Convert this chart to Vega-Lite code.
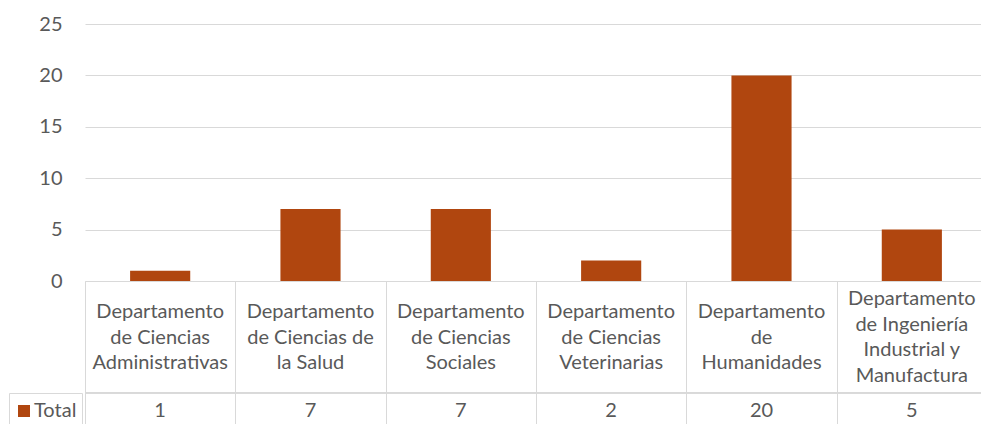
{
  "$schema": "https://vega.github.io/schema/vega-lite/v6.json",
  "width": 902,
  "height": 257,
  "autosize": {"type": "none"},
  "padding": {"left": 85, "top": 24, "right": -6, "bottom": 143},
  "background": "white",
  "config": {
    "font": "Lato",
    "view": {"stroke": null},
    "axis": {"labelFont": "Lato", "labelColor": "#595959"}
  },
  "data": {
    "values": [
      {"dept": "Departamento de Ciencias Administrativas", "label": ["Departamento", "de Ciencias", "Administrativas"], "value": 1, "series": "Total"},
      {"dept": "Departamento de Ciencias de la Salud", "label": ["Departamento", "de Ciencias de", "la Salud"], "value": 7, "series": "Total"},
      {"dept": "Departamento de Ciencias Sociales", "label": ["Departamento", "de Ciencias", "Sociales"], "value": 7, "series": "Total"},
      {"dept": "Departamento de Ciencias Veterinarias", "label": ["Departamento", "de Ciencias", "Veterinarias"], "value": 2, "series": "Total"},
      {"dept": "Departamento de Humanidades", "label": ["Departamento", "de", "Humanidades"], "value": 20, "series": "Total"},
      {"dept": "Departamento de Ingeniería Industrial y Manufactura", "label": ["Departamento", "de Ingeniería", "Industrial y", "Manufactura"], "value": 5, "series": "Total"}
    ]
  },
  "resolve": {"scale": {"y": "independent"}, "axis": {"y": "independent"}},
  "layer": [
    {
      "mark": {"type": "bar", "width": {"band": 0.4}},
      "encoding": {
        "x": {
          "field": "dept", "type": "nominal", "sort": null,
          "scale": {"paddingInner": 0, "paddingOuter": 0},
          "axis": {
            "title": null,
            "labels": false,
            "tickBand": "extent",
            "tickSize": 143,
            "tickColor": "#d9d9d9",
            "domainColor": "#d9d9d9"
          }
        },
        "y": {
          "field": "value", "type": "quantitative",
          "scale": {"domain": [0, 25]},
          "axis": {
            "title": null,
            "values": [0, 5, 10, 15, 20, 25],
            "grid": true,
            "gridColor": "#d9d9d9",
            "domain": false,
            "ticks": false,
            "labelFontSize": 20,
            "labelPadding": 23
          }
        },
        "color": {
          "field": "series", "type": "nominal",
          "scale": {"range": ["#B0460F"]},
          "legend": {
            "orient": "none",
            "legendX": -76,
            "legendY": 369,
            "title": " ",
            "titleFontSize": 3,
            "titlePadding": 0,
            "symbolType": "square",
            "symbolSize": 144,
            "symbolStrokeWidth": 0,
            "labelFontSize": 20,
            "labelColor": "#595959",
            "labelFont": "Lato",
            "labelOffset": 0,
            "padding": 5,
            "strokeColor": "#d9d9d9"
          }
        }
      }
    },
    {
      "mark": {"type": "rule", "color": "#d9d9d9", "strokeWidth": 1},
      "encoding": {
        "y": {
          "field": "series", "type": "nominal", "bandPosition": 0,
          "scale": {"type": "band", "domain": ["Total"], "range": [369, 404]},
          "axis": null
        }
      }
    },
    {
      "mark": {"type": "text", "fontSize": 20, "color": "#595959", "baseline": "middle", "font": "Lato"},
      "encoding": {
        "x": {"field": "dept", "type": "nominal", "sort": null},
        "y": {
          "field": "series", "type": "nominal",
          "scale": {"type": "band", "domain": ["Total"], "range": [369, 404]},
          "axis": null
        },
        "text": {"field": "value", "type": "quantitative"}
      }
    },
    {
      "transform": [{"filter": "length(datum.label) == 3"}],
      "mark": {"type": "text", "fontSize": 20, "color": "#595959", "baseline": "middle", "font": "Lato", "lineHeight": 25.5, "dy": -25},
      "encoding": {
        "x": {"field": "dept", "type": "nominal", "sort": null},
        "y": {
          "field": "series", "type": "nominal",
          "scale": {"type": "band", "domain": ["Total"], "range": [257, 369]},
          "axis": null
        },
        "text": {"field": "label", "type": "nominal"}
      }
    },
    {
      "transform": [{"filter": "length(datum.label) == 4"}],
      "mark": {"type": "text", "fontSize": 20, "color": "#595959", "baseline": "middle", "font": "Lato", "lineHeight": 25.5, "dy": -38},
      "encoding": {
        "x": {"field": "dept", "type": "nominal", "sort": null},
        "y": {
          "field": "series", "type": "nominal",
          "scale": {"type": "band", "domain": ["Total"], "range": [257, 369]},
          "axis": null
        },
        "text": {"field": "label", "type": "nominal"}
      }
    }
  ]
}
